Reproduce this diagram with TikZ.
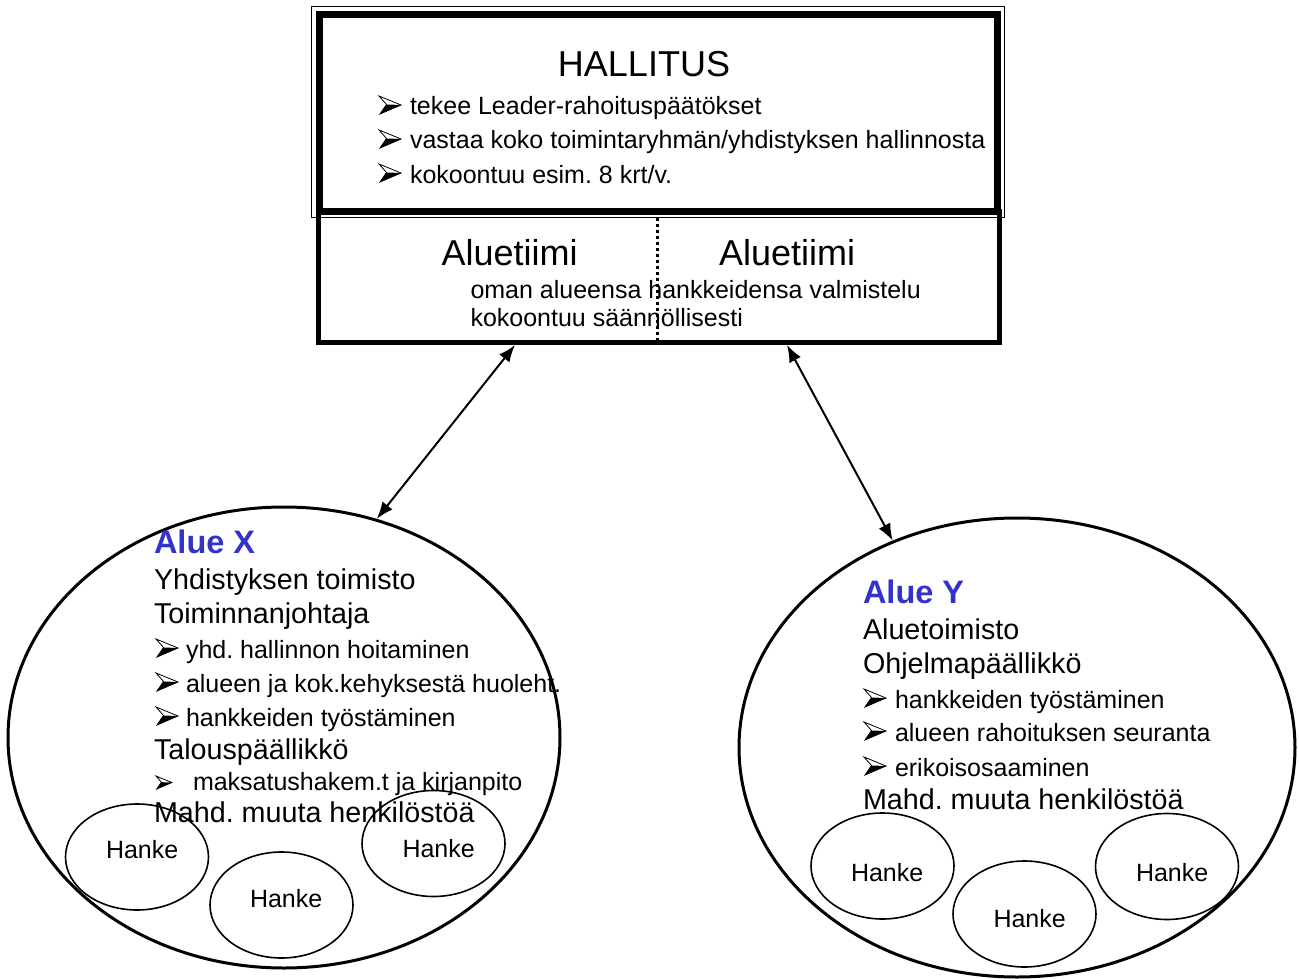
\documentclass[tikz,border=0pt]{standalone}
\usepackage{fontspec}
\setmainfont{Liberation Sans}
\usetikzlibrary{shapes.geometric,arrows.meta}
\definecolor{alueblue}{RGB}{51,51,204}
\tikzset{
  txt/.style={anchor=base west, inner sep=0pt, outer sep=0pt},
  fs25/.style={font=\fontsize{25}{30}\selectfont},
  fs29/.style={font=\fontsize{28.7}{34}\selectfont},
  fsbig/.style={font=\fontsize{36}{42}\selectfont},
  aluehead/.style={font=\fontsize{32.5}{38}\selectfont\bfseries, text=alueblue},
  bigell/.style={draw, ellipse, line width=3pt, inner sep=0pt},
  hankeell/.style={draw, ellipse, line width=1.6pt, inner sep=0pt, minimum width=143pt, minimum height=106pt},
  link/.style={<->, line width=2pt, >={Latex[length=17pt,width=13pt]}},
  bularrow/.pic={
    \draw[line width=0.8pt, line join=miter, fill=white] (0,-18) -- (22,-9) -- (1,0) -- (7.5,-9.5) -- cycle;
    \fill (7.5,-9.5) -- (22,-9) -- (1,0) -- cycle;
  }
}
\begin{document}
\frenchspacing
\begin{tikzpicture}[x=1pt,y=-1pt]
\useasboundingbox (0,0) rectangle (1299,979);
% top boxes
\node[draw, line width=1pt, minimum width=693pt, minimum height=210pt, inner sep=0pt] (frame) at (657.5,112) {};
\node[draw, line width=5pt, minimum width=681.5pt, minimum height=131.5pt, inner sep=0pt] (team) at (658.75,276.75) {};
\node[draw, line width=7pt, minimum width=678.5pt, minimum height=196pt, inner sep=0pt] (hall) at (658.25,113) {};
\draw[line width=3pt, dash pattern=on 3pt off 3pt] ([xshift=341.5pt,yshift=-3pt]team.north west) -- ([xshift=341.5pt,yshift=5pt]team.south west);

\node[anchor=base, inner sep=0pt, fsbig] (title) at (644,77) {HALLITUS};
\node[txt, fs25] (h1) at (410,115) {tekee Leader-rahoituspäätökset};
\node[txt, fs25] (h2) at (410,149) {vastaa koko toimintaryhmän/yhdistyksen hallinnosta};
\node[txt, fs25] (h3) at (410,183) {kokoontuu esim. 8 krt/v.};
\pic at ([xshift=-31pt,yshift=1pt]h1.base west) {bularrow};
\pic at ([xshift=-31pt,yshift=1pt]h2.base west) {bularrow};
\pic at ([xshift=-31pt,yshift=1pt]h3.base west) {bularrow};

\node[txt, fsbig] (at1) at (441.5,265) {Aluetiimi};
\node[txt, fsbig] (at2) at (719,265) {Aluetiimi};
\node[txt, fs25] (t1) at (470.5,298) {oman alueensa hankkeidensa valmistelu};
\node[txt, fs25] (t2) at (470.5,326) {kokoontuu säännöllisesti};

% big ellipses
\node[bigell, minimum width=552pt, minimum height=461pt] (ellX) at (284,737.5) {};
\node[bigell, minimum width=556pt, minimum height=459pt] (ellY) at (1017,747.5) {};

% connectors
\draw[link] ([xshift=199.5pt]team.south west) -- (ellX.67);
\draw[link] ([xshift=471.5pt]team.south west) -- (ellY.121);

% area X texts
\node[txt, aluehead] (ax) at (154,553) {Alue X};
\node[txt, fs29] (x1) at (154,589) {Yhdistyksen toimisto};
\node[txt, fs29] (x2) at (154,623) {Toiminnanjohtaja};
\node[txt, fs25] (x3) at (186,658) {yhd. hallinnon hoitaminen};
\node[txt, fs25] (x4) at (186,692) {alueen ja kok.kehyksestä huoleht.};
\node[txt, fs25] (x5) at (186,726) {hankkeiden työstäminen};
\node[txt, fs29] (x6) at (154,759) {Talouspäällikkö};
\node[txt, fs25] (x7) at (193,790) {maksatushakem.t ja kirjanpito};
\node[txt, fs29] (x8) at (154,822) {Mahd. muuta henkilöstöä};
\pic at ([xshift=-30pt,yshift=1pt]x3.base west) {bularrow};
\pic at ([xshift=-30pt,yshift=1pt]x4.base west) {bularrow};
\pic at ([xshift=-30pt,yshift=1pt]x5.base west) {bularrow};
\pic[scale=0.72] at ([xshift=-37pt,yshift=1pt]x7.base west) {bularrow};

% area Y texts
\node[txt, aluehead] (ay) at (863,603) {Alue Y};
\node[txt, fs29] (y1) at (863,639) {Aluetoimisto};
\node[txt, fs29] (y2) at (863,673) {Ohjelmapäällikkö};
\node[txt, fs25] (y3) at (895,708) {hankkeiden työstäminen};
\node[txt, fs25] (y4) at (895,741) {alueen rahoituksen seuranta};
\node[txt, fs25] (y5) at (895,776) {erikoisosaaminen};
\node[txt, fs29] (y6) at (863,809) {Mahd. muuta henkilöstöä};
\pic at ([xshift=-31pt,yshift=1pt]y3.base west) {bularrow};
\pic at ([xshift=-31pt,yshift=1pt]y4.base west) {bularrow};
\pic at ([xshift=-31pt,yshift=1pt]y5.base west) {bularrow};

% Hanke ellipses
\node[hankeell] (hx1) at (137,857) {};
\node[hankeell] (hx2) at (281.5,905) {};
\node[hankeell] (hx3) at (433.5,843.5) {};
\node[hankeell] (hy1) at (882.5,866) {};
\node[hankeell] (hy2) at (1024.5,914) {};
\node[hankeell] (hy3) at (1167,866.5) {};
\node[txt, fs25] (lx1) at (106,858) {Hanke};
\node[txt, fs25] (lx2) at (250,907) {Hanke};
\node[txt, fs25] (lx3) at (402.5,857) {Hanke};
\node[txt, fs25] (ly1) at (851,881) {Hanke};
\node[txt, fs25] (ly2) at (993.5,927) {Hanke};
\node[txt, fs25] (ly3) at (1136,881) {Hanke};
\end{tikzpicture}
\end{document}
